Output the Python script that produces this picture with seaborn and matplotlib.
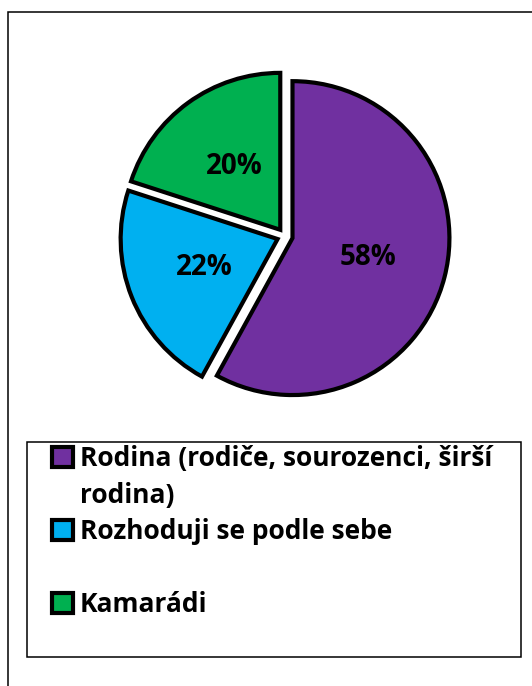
import matplotlib
matplotlib.use("Agg")
import matplotlib.pyplot as plt
from matplotlib.patches import Rectangle, Patch
import seaborn as sns

# data
labels = ["Rodina (rodiče, sourozenci, širší rodina)", "Rozhoduji se podle sebe", "Kamarádi"]
shares = [58, 22, 20]
colors = ["#7030A0", "#00B0F0", "#00B050"]

sns.set_theme(style="white")
plt.rcParams["font.family"] = ["Open Sans", "DejaVu Sans"]

fig = plt.figure(figsize=(5.32, 6.86), dpi=100)
ax = fig.add_axes([0.211, 0.404, 0.649, 0.5035])

wedges, _, autotexts = ax.pie(
    shares,
    colors=sns.color_palette(colors),
    startangle=90,
    counterclock=False,
    explode=[0.05, 0.05, 0.05],
    autopct="%1.0f%%",
    pctdistance=0.5,
    wedgeprops={"edgecolor": "black", "linewidth": 3},
    textprops={"fontsize": 20, "fontweight": "bold", "color": "black"},
)
ax.set_xlim(-1.1, 1.1)
ax.set_ylim(-1.1, 1.1)
ax.set_aspect("equal")
ax.axis("off")

# legend rows (wrapped first label and a gap before the last one, like the original)
blank = Patch(facecolor="none", edgecolor="none")
handles = [wedges[0], blank, wedges[1], blank, wedges[2]]
rows = ["Rodina (rodiče, sourozenci, širší", "rodina)", labels[1], " ", labels[2]]
fig.legend(
    handles, rows,
    loc="upper left",
    bbox_to_anchor=(52 / 532, 1 - 445 / 686),
    bbox_transform=fig.transFigure,
    frameon=False,
    borderpad=0,
    borderaxespad=0,
    handlelength=0.8,
    handleheight=0.8,
    handletextpad=0.25,
    labelspacing=0.36,
    labelcolor="black",
    prop={"family": "Open Sans", "weight": "bold", "size": 19},
)

# legend box and outer chart border
fig.add_artist(Rectangle((27 / 532, 1 - 657 / 686), 494 / 532, 215 / 686,
                         transform=fig.transFigure, fill=False, edgecolor="black", lw=1.1))
fig.add_artist(Rectangle((8 / 532, -0.05), 1.1, 0.05 + 1 - 12 / 686,
                         transform=fig.transFigure, fill=False, edgecolor="black", lw=1.1))

fig.savefig("out.png", dpi=100, facecolor="white")
